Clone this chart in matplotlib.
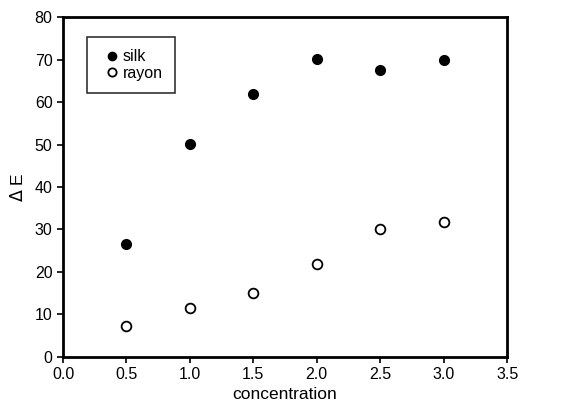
import numpy as np
import matplotlib.pyplot as plt

plt.rcParams['font.family'] = ['Liberation Sans', 'DejaVu Sans']

conc = [0.5, 1.0, 1.5, 2.0, 2.5, 3.0]
silk = [26.7, 50.2, 61.8, 70.2, 67.6, 70.0]
rayon = [7.2, 11.6, 15.1, 21.9, 30.2, 31.7]

fig = plt.figure(figsize=(5.73, 4.07), dpi=100)
ax = fig.add_axes([0.110, 0.123, 0.775, 0.835])

ax.plot(conc, silk, linestyle='none', marker='o', color='black', markersize=7, label='silk')
ax.plot(conc, rayon, linestyle='none', marker='o', markerfacecolor='white',
        markeredgecolor='black', markeredgewidth=1.3, markersize=7, label='rayon')

ax.set_xlim(0, 3.5)
ax.set_ylim(0, 80)
ax.set_xticks(np.arange(0, 3.51, 0.5))
ax.set_yticks(np.arange(0, 81, 10))
ax.xaxis.set_major_formatter(plt.FormatStrFormatter('%.1f'))
ax.tick_params(direction='out', length=4, width=1.2, labelsize=11.5, top=False, right=False)
for s in ax.spines.values():
    s.set_linewidth(2)

ax.set_xlabel('concentration', fontsize=12.5, labelpad=3)
ax.set_ylabel('$\\Delta$ E', fontsize=12.5, labelpad=6)

leg = ax.legend(loc='upper left', bbox_to_anchor=(0.054, 0.941), borderaxespad=0,
                frameon=True, fancybox=False, edgecolor='black', fontsize=11.5,
                handletextpad=-0.1, borderpad=0.75, labelspacing=0.1,
                handlelength=1.6, markerscale=0.85)
leg.get_frame().set_linewidth(1.2)

plt.savefig('out.png', dpi=100)
